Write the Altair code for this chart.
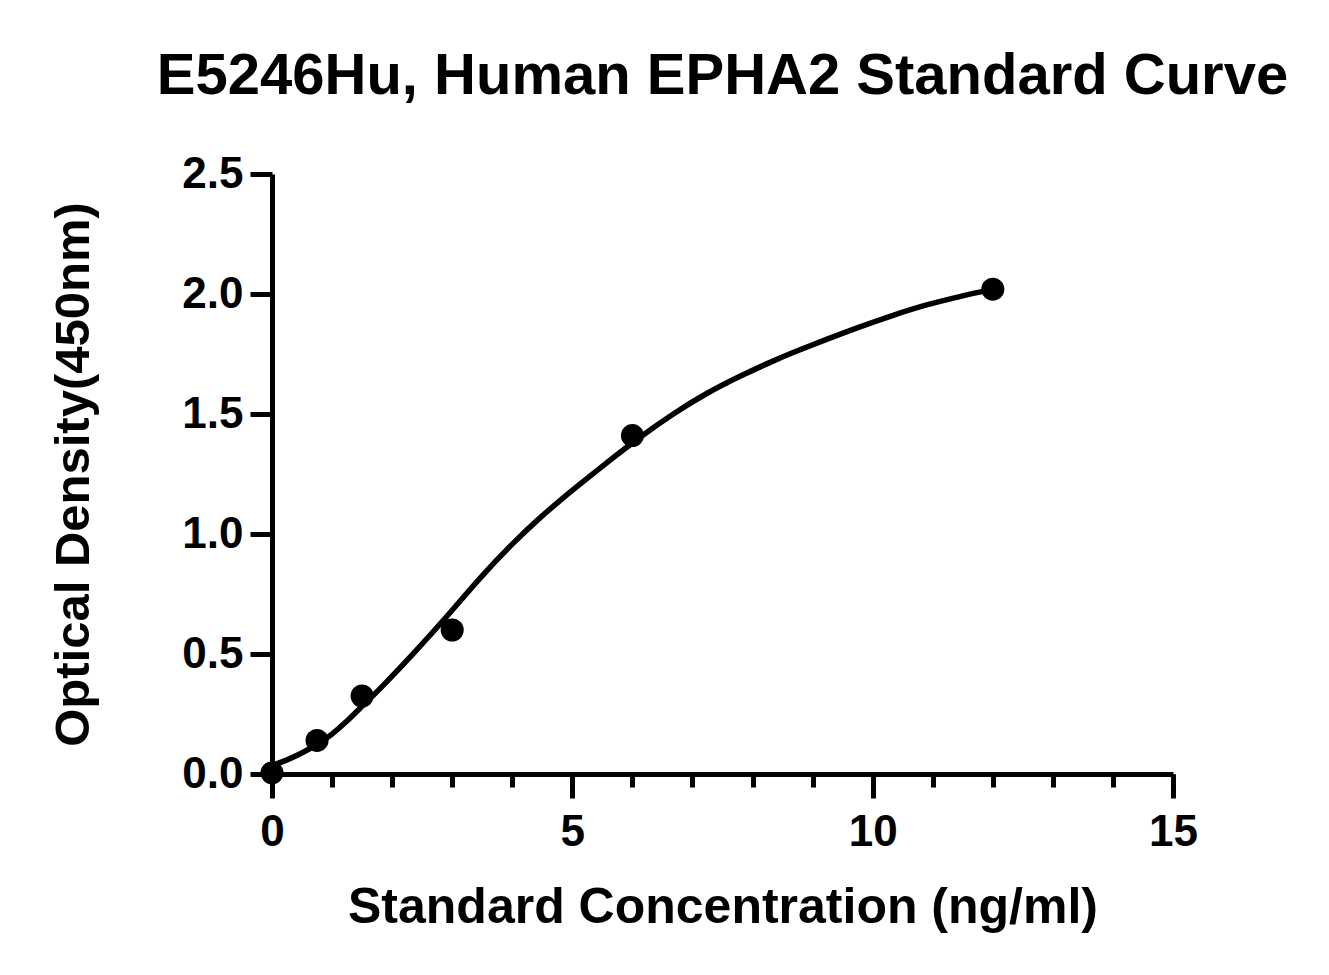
import altair as alt
import pandas as pd

# Measured standards
conc = [0, 0.75, 1.5, 3, 6, 12]
od = [0.005, 0.14, 0.325, 0.60, 1.41, 2.02]

# Fitted curve
curve_x = [0, 0.25, 0.5, 0.77, 1.0, 1.25, 1.51, 1.80, 2.35, 2.91, 3.46, 4.02, 4.46,
           4.74, 5.02, 5.57, 6.13, 6.68, 7.24, 7.79, 8.35, 8.68, 9.23, 9.79, 10.34,
           10.90, 11.45, 12.0]
curve_y = [0.035, 0.058, 0.087, 0.125, 0.165, 0.22, 0.285, 0.355, 0.50, 0.655, 0.818,
           0.965, 1.068, 1.128, 1.186, 1.297, 1.405, 1.502, 1.588, 1.658, 1.722, 1.757,
           1.811, 1.864, 1.912, 1.956, 1.99, 2.02]

major_x = [0, 5, 10, 15]
minor_x = list(range(0, 16))
y_ticks = [0, 0.5, 1.0, 1.5, 2.0, 2.5]

FONT = "Liberation Sans"

pts = pd.DataFrame({"x": conc, "y": od})
crv = pd.DataFrame({"x": curve_x, "y": curve_y})

xscale = alt.Scale(domain=[0, 15], nice=False, zero=False)
yscale = alt.Scale(domain=[0, 2.5], nice=False)

line = alt.Chart(crv).mark_line(color="black", strokeWidth=5.5, interpolate="basis").encode(
    x=alt.X("x:Q", scale=xscale,
            axis=alt.Axis(orient="bottom", values=minor_x, tickSize=13, tickWidth=5,
                          tickColor="black", labels=False, domain=False, title=None,
                          grid=False)),
    y=alt.Y("y:Q", scale=yscale,
            axis=alt.Axis(values=y_ticks, format=".1f", tickSize=22, tickWidth=5,
                          tickColor="black", domainColor="black", domainWidth=5,
                          labelFont=FONT, labelFontSize=44, labelFontWeight="bold",
                          labelColor="black", labelPadding=7,
                          title="Optical Density(450nm)", titleFont=FONT,
                          titleFontSize=49, titleFontWeight="bold", titleColor="black",
                          titlePadding=83, grid=False)),
)

points = alt.Chart(pts).mark_circle(color="black", opacity=1, size=530).encode(
    x=alt.X("x:Q", scale=xscale,
            axis=alt.Axis(orient="bottom", values=major_x, tickSize=24, tickWidth=5,
                          tickColor="black", domainColor="black", domainWidth=5,
                          labelFont=FONT, labelFontSize=44, labelFontWeight="bold",
                          labelColor="black", labelPadding=12, labelFlush=False,
                          title="Standard Concentration (ng/ml)", titleFont=FONT,
                          titleFontSize=50, titleFontWeight="bold", titleColor="black",
                          titlePadding=28, grid=False)),
    y=alt.Y("y:Q", scale=yscale),
)

chart = alt.layer(line, points).resolve_axis(x="independent").properties(
    width=901,
    height=600,
    title=alt.TitleParams("E5246Hu, Human EPHA2 Standard Curve", font=FONT, fontSize=58,
                          fontWeight="bold", color="black", anchor="middle",
                          frame="group", offset=46),
    autosize=alt.AutoSizeParams(type="none"),
    padding={"left": 264, "top": 166, "right": 140, "bottom": 185},
).configure(background="white").configure_view(stroke=None)

chart.save("out.html", embed_options={"renderer": "svg", "actions": False})
